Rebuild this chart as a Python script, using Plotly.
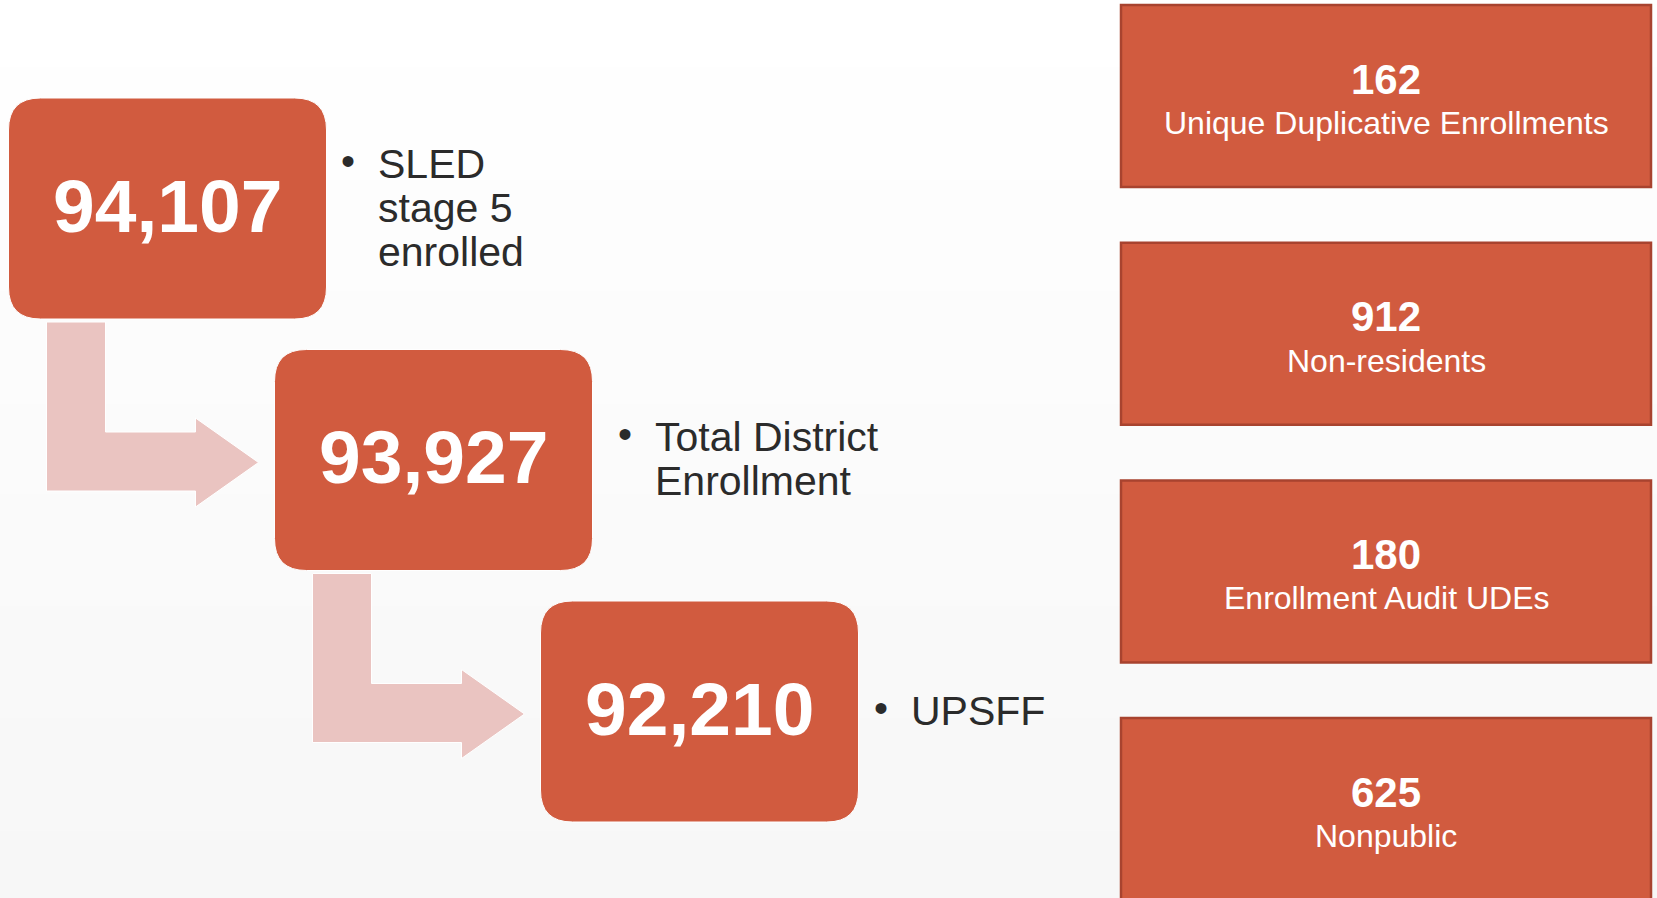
import plotly.graph_objects as go

# values and labels
flow_values = ["94,107", "93,927", "92,210"]
flow_labels = [["SLED", "stage 5", "enrolled"], ["Total District", "Enrollment"], ["UPSFF"]]
side_values = ["162", "912", "180", "625"]
side_labels = ["Unique Duplicative Enrollments", "Non-residents", "Enrollment Audit UDEs", "Nonpublic"]

W, H = 1657, 898
BOX_FILL = "#D15B3F"
SIDE_EDGE = "#A8432F"
ARROW_FILL = "#EAC4C1"
TEXT = "#2b2b2b"
FONT = "Liberation Sans, Arial, sans-serif"

# flow box layout
BX0, BY0, BW, BH = 8.5, 98, 318, 221
DX, DY = 266, 251.5
R = 32
TEXT_GAP = [49, 60, 50]   # bullet text distance from box edge

# side box layout
SX0, SX1 = 1121, 1651
SY0, SH, SDY = 5, 182, 237.7

fig = go.Figure()
shapes = []
ann = []

# faint vertical gradient background (white -> light grey)
nb = 40
for i in range(nb):
    t = i / (nb - 1)
    g = round(255 - 8 * t)
    shapes.append(dict(type="rect", x0=0, x1=W, y0=H * i / nb, y1=H * (i + 1) / nb + 1,
                       fillcolor=f"rgb({g},{g},{g})", line_width=0, layer="below"))


def rounded(x0, y0, x1, y1, r):
    return (f"M{x0 + r},{y0} L{x1 - r},{y0} Q{x1},{y0} {x1},{y0 + r} "
            f"L{x1},{y1 - r} Q{x1},{y1} {x1 - r},{y1} L{x0 + r},{y1} "
            f"Q{x0},{y1} {x0},{y1 - r} L{x0},{y0 + r} Q{x0},{y0} {x0 + r},{y0} Z")


for i, (val, lines) in enumerate(zip(flow_values, flow_labels)):
    x0 = BX0 + DX * i
    y0 = BY0 + DY * i
    x1, y1 = x0 + BW, y0 + BH

    # bent arrow to the next box
    if i < len(flow_values) - 1:
        b = y1
        p = (f"M{x0 + 38},{b + 3} L{x0 + 97},{b + 3} L{x0 + 97},{b + 113} "
             f"L{x0 + 187},{b + 113} L{x0 + 187},{b + 99} L{x0 + 250},{b + 143.5} "
             f"L{x0 + 187},{b + 188} L{x0 + 187},{b + 172} L{x0 + 38},{b + 172} Z")
        shapes.append(dict(type="path", path=p, fillcolor=ARROW_FILL,
                           line=dict(color="white", width=1)))

    shapes.append(dict(type="path", path=rounded(x0, y0, x1, y1, R),
                       fillcolor=BOX_FILL, line=dict(color="white", width=1)))
    ann.append(dict(x=(x0 + x1) / 2, y=(y0 + y1) / 2 - 3, text=f"<b>{val}</b>",
                    font=dict(family=FONT, size=75, color="white")))

    # bullet text to the right
    n = len(lines)
    cy = (y0 + y1) / 2 - 1
    gap = TEXT_GAP[i]
    for k, ln in enumerate(lines):
        ly = cy + (k - (n - 1) / 2) * 44
        ann.append(dict(x=x1 + gap, y=ly, text=ln, xanchor="left",
                        font=dict(family=FONT, size=41, color=TEXT)))
    ann.append(dict(x=x1 + gap - 28, y=cy - (n - 1) / 2 * 44 - 3, text="•",
                    font=dict(family=FONT, size=40, color=TEXT)))

for j, (val, lab) in enumerate(zip(side_values, side_labels)):
    y0 = SY0 + SDY * j
    y1 = y0 + SH
    shapes.append(dict(type="rect", x0=SX0, x1=SX1, y0=y0, y1=y1,
                       fillcolor=BOX_FILL, line=dict(color=SIDE_EDGE, width=2.5)))
    ann.append(dict(x=(SX0 + SX1) / 2, y=y0 + 74, text=f"<b>{val}</b>",
                    font=dict(family=FONT, size=42, color="white")))
    ann.append(dict(x=(SX0 + SX1) / 2, y=y0 + 118, text=lab,
                    font=dict(family=FONT, size=32, color="white")))

for a in ann:
    a.setdefault("xanchor", "center")
    a.update(xref="x", yref="y", yanchor="middle", showarrow=False)

fig.update_layout(
    width=W, height=H,
    margin=dict(l=0, r=0, t=0, b=0),
    paper_bgcolor="white", plot_bgcolor="white",
    xaxis=dict(range=[0, W], visible=False, fixedrange=True),
    yaxis=dict(range=[H, 0], visible=False, fixedrange=True),
    shapes=shapes, annotations=ann, showlegend=False,
)
fig.write_html("out.html", config=dict(displayModeBar=False),
               post_script="document.body.style.margin='0';document.body.style.overflow='hidden';")
